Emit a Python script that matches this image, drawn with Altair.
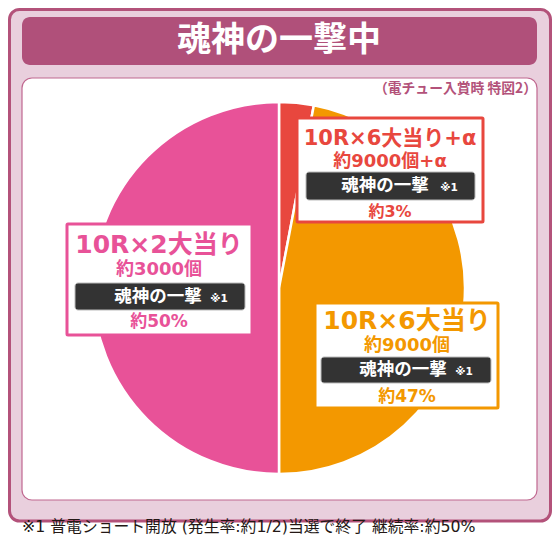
import altair as alt
import pandas as pd

# ---- content ----
title_text = "魂神の一撃中"
subtitle_text = "（電チュー入賞時 特図2）"
footnote_text = "※1 普電ショート開放 (発生率:約1/2)当選で終了 継続率:約50%"
categories = ["10R×6大当り+α", "10R×6大当り", "10R×2大当り"]
payouts = ["約9000個+α", "約9000個", "約3000個"]
shares = [3, 47, 50]
share_labels = ["約3%", "約47%", "約50%"]
feature_text = "魂神の一撃"
note_mark = "※1"
slice_colors = ["#E8473E", "#F39800", "#E85298"]

# ---- layout (pixels) ----
FONT = "DejaVu Sans, Noto Sans CJK JP"
CJK = "Noto Sans CJK JP"
CX, CY, R = 279, 288, 186
label_layout = [
    dict(cx=390, box=(297, 483, 118, 222), hy=139, hs=21, py=162, ps=18,
         dark=(306, 475, 172, 200), fx=385, nx=449, qy=212, qs=16),
    dict(cx=407, box=(315, 498, 303, 408), hy=321, hs=25, py=346, ps=18,
         dark=(321, 491, 357, 383), fx=403, nx=464, qy=397, qs=17),
    dict(cx=159, box=(67, 252, 224, 335), hy=245, hs=25, py=270, ps=18,
         dark=(75, 245, 283, 310), fx=158, nx=219, qy=322, qs=17),
]

# ---- background frames ----
frames = pd.DataFrame([
    dict(x=9.5, x2=550.5, y=9.5, y2=521, fill="#E9CFDD", stroke="#B3527A"),
    dict(x=22, x2=537, y=17, y2=65, fill="#B0507A", stroke="#B0507A"),
    dict(x=22, x2=537, y=78, y2=500, fill="#FFFFFF", stroke="#C06890"),
])

def rect_layer(df, cr, sw):
    return alt.Chart(df).mark_rect(cornerRadius=cr, strokeWidth=sw).encode(
        x=alt.X("x:Q", scale=None, axis=None),
        x2="x2:Q",
        y=alt.Y("y:Q", scale=None, axis=None),
        y2="y2:Q",
        fill=alt.Fill("fill:N", scale=None),
        stroke=alt.Stroke("stroke:N", scale=None),
    )

outer = rect_layer(frames.iloc[[0]], 10, 3)
banner = rect_layer(frames.iloc[[1]], 8, 0)
inner = rect_layer(frames.iloc[[2]], 10, 1.2)

# ---- pie ----
pie_df = pd.DataFrame({
    "category": categories,
    "share": shares,
    "color": slice_colors,
    "order": [0, 1, 2],
})
pie = alt.Chart(pie_df).mark_arc(radius=R, stroke="white", strokeWidth=2.5).encode(
    theta=alt.Theta("share:Q", stack=True),
    color=alt.Color("color:N", scale=None),
    order=alt.Order("order:Q"),
    x=alt.value(CX),
    y=alt.value(CY),
)

# ---- label boxes ----
box_rows, dark_rows, bold_rows, cjk_rows, note_rows = [], [], [], [], []
for i, L in enumerate(label_layout):
    bx = L["box"]
    box_rows.append(dict(x=bx[0], x2=bx[1], y=bx[2], y2=bx[3], fill="#FFFFFF", stroke=slice_colors[i]))
    d = L["dark"]
    dark_rows.append(dict(x=d[0], x2=d[1], y=d[2], y2=d[3], fill="#333333", stroke="#BBBBBB"))
    bold_rows.append(dict(x=L["cx"], y=L["hy"], text=categories[i], size=L["hs"], color=slice_colors[i]))
    bold_rows.append(dict(x=L["cx"], y=L["py"], text=payouts[i], size=L["ps"], color=slice_colors[i]))
    bold_rows.append(dict(x=L["cx"], y=L["qy"], text=share_labels[i], size=L["qs"], color=slice_colors[i]))
    cjk_rows.append(dict(x=L["fx"], y=(d[2] + d[3]) / 2, text=feature_text, size=17.5, color="#FFFFFF"))
    note_rows.append(dict(x=L["nx"], y=(d[2] + d[3]) / 2 + 2, text=note_mark, size=10.5, color="#FFFFFF"))

boxes = rect_layer(pd.DataFrame(box_rows), 1, 3)
darks = rect_layer(pd.DataFrame(dark_rows), 3, 1)

cjk_rows.append(dict(x=CX, y=41, text=title_text, size=34, color="#FFFFFF"))

def text_layer(df, font, align="center", weight="bold"):
    return alt.Chart(df).mark_text(font=font, fontWeight=weight, align=align, baseline="middle").encode(
        x=alt.X("x:Q", scale=None, axis=None),
        y=alt.Y("y:Q", scale=None, axis=None),
        text="text:N",
        size=alt.Size("size:Q", scale=None),
        color=alt.Color("color:N", scale=None),
    )

texts = text_layer(pd.DataFrame(bold_rows), FONT)
cjk_texts = text_layer(pd.DataFrame(cjk_rows), CJK)
notes = text_layer(pd.DataFrame(note_rows), FONT)
subtitle = text_layer(pd.DataFrame([dict(x=537, y=89, text=subtitle_text, size=13.8, color="#B3527A")]),
                      CJK, align="right")
footnote = text_layer(pd.DataFrame([dict(x=22, y=527, text=footnote_text, size=15.8, color="#231815")]),
                      FONT, align="left", weight="normal")

chart = alt.layer(outer, banner, inner, pie, boxes, darks, texts, cjk_texts, notes, subtitle, footnote).properties(
    width=560, height=543,
    padding={"left": -8, "top": -8, "right": -8, "bottom": -8},
    autosize=alt.AutoSizeParams(type="none"),
    background="white",
).configure_view(stroke=None)

chart.save("out.html", embed_options={"renderer": "svg", "actions": False})
